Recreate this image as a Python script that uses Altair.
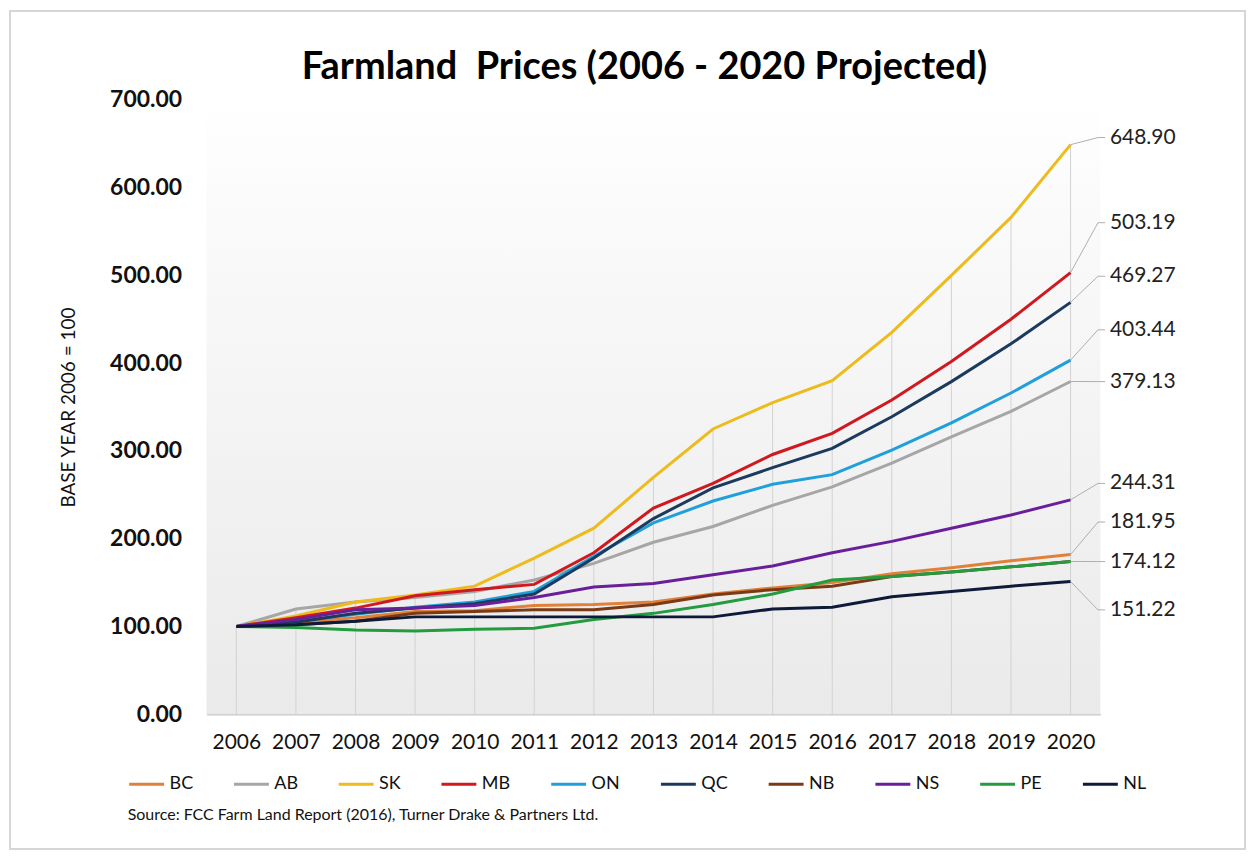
import altair as alt
import pandas as pd

years = list(range(2006, 2021))
series = ["BC", "AB", "SK", "MB", "ON", "QC", "NB", "NS", "PE", "NL"]
colors = ["#E0803A", "#A6A6A6", "#EDBB1C", "#D0181E", "#1FA0DA",
          "#1B3A5E", "#7B3A16", "#6A1F9A", "#239B3E", "#0E1A3A"]

BC = [100, 105, 110, 117, 118, 124, 125, 128, 137, 144, 150, 160, 167, 175, 181.95]
AB = [100, 120, 128, 133, 140, 153, 172, 196, 214, 238, 259, 286, 316, 345, 379.13]
SK = [100, 112, 128, 136, 146, 178, 212, 270, 325, 355, 380, 435, 500, 566, 648.90]
MB = [100, 110, 121, 135, 142, 148, 184, 235, 263, 296, 320, 358, 402, 450, 503.19]
ON = [100, 106, 114, 122, 128, 140, 180, 218, 243, 262, 273, 301, 332, 366, 403.44]
QC = [100, 105, 115, 121, 126, 137, 178, 223, 258, 281, 303, 339, 379, 422, 469.27]
NB = [100, 102, 106, 115, 117, 119, 119, 125, 136, 142, 146, 157, 162, 168, 174.12]
NS = [100, 108, 119, 121, 124, 133, 145, 149, 159, 169, 184, 197, 212, 227, 244.31]
PE = [100, 99, 96, 95, 97, 98, 108, 115, 125, 137, 153, 157, 162, 168, 174.12]
NL = [100, 102, 106, 111, 111, 111, 111, 111, 111, 120, 122, 134, 140, 146, 151.22]
values = [BC, AB, SK, MB, ON, QC, NB, NS, PE, NL]

# end-of-line data labels (value shown, and where the label sits on the value scale)
end_labels = [648.90, 503.19, 469.27, 403.44, 379.13, 244.31, 181.95, 174.12, 151.22]
label_pos = [657, 560, 499, 438, 379, 263, 219, 174, 119]

title_text = "Farmland\u00a0 Prices (2006 - 2020 Projected)"
y_title = "BASE YEAR 2006 = 100"
source_text = "Source: FCC Farm Land Report (2016), Turner Drake & Partners Ltd."

FONT = "Lato"

rows = []
for s, vals in zip(series, values):
    for yr, v in zip(years, vals):
        rows.append({"series": s, "year": yr, "value": v, "ord": series.index(s)})
df = pd.DataFrame(rows)

lab_df = pd.DataFrame({"value": end_labels, "lpos": label_pos,
                       "label": [f"{v:.2f}" for v in end_labels]})

xscale = alt.Scale(domain=[2005.5, 2020.5], nice=False, zero=False)
yscale = alt.Scale(domain=[0, 700], nice=False)

W, H = 896, 616
PAD = {"left": 199, "top": 91, "right": 150, "bottom": 140}

one = pd.DataFrame({"a": [0]})

frame = alt.Chart(one).mark_rect(
    filled=False, stroke="#D6D6D6", strokeWidth=2
).encode(
    x=alt.value(-197), x2=alt.value(W + 145),
    y=alt.value(-89), y2=alt.value(H + 135),
)

bg = alt.Chart(one).mark_rect(
    color=alt.LinearGradient(
        gradient="linear",
        stops=[alt.GradientStop(color="#FFFFFF", offset=0),
               alt.GradientStop(color="#FBFBFB", offset=0.15),
               alt.GradientStop(color="#EAEAEA", offset=1)],
        x1=0, x2=0, y1=0, y2=1)
).encode(
    x=alt.datum(2005.5, scale=xscale),
    x2=alt.datum(2020.5),
    y=alt.datum(700, scale=yscale),
    y2=alt.datum(0),
)

drops = alt.Chart(df).transform_aggregate(
    vmax="max(value)", groupby=["year"]
).transform_calculate(zero="0").mark_rule(color="#D2D2D2", strokeWidth=1).encode(
    x=alt.X("year:Q", scale=xscale, title=None),
    y=alt.Y("zero:Q", scale=yscale, title=y_title),
    y2="vmax:Q",
)

lines = alt.Chart(df).mark_line(strokeWidth=3).encode(
    x=alt.X("year:Q", scale=xscale, title=None,
            axis=alt.Axis(values=years, format="d", grid=False, ticks=False,
                          domainColor="#C8C8C8", domainWidth=1.5,
                          labelFontSize=21, labelFont=FONT, labelColor="#111111",
                          labelPadding=17)),
    y=alt.Y("value:Q", scale=yscale, title=y_title,
            axis=alt.Axis(values=list(range(0, 701, 100)), format=".2f", grid=False,
                          ticks=False, domain=False, labelFontSize=23,
                          labelFont=FONT, labelFontWeight="bold", labelColor="#111111",
                          labelPadding=25, titleFont=FONT, titleFontSize=19,
                          titleFontWeight="normal", titleColor="#111111",
                          titlePadding=31)),
    color=alt.Color("series:N", scale=alt.Scale(domain=series, range=colors),
                    legend=alt.Legend(orient="none", legendX=-79, legendY=667,
                                      direction="horizontal", columns=10, title=None,
                                      symbolType="stroke", symbolSize=1225,
                                      symbolStrokeWidth=3, labelFontSize=18,
                                      labelFont=FONT, labelColor="#111111",
                                      labelOffset=4, columnPadding=34)),
    order=alt.Order("ord:Q"),
)

leader1 = alt.Chart(lab_df).mark_rule(color="#AFAFAF", strokeWidth=1).encode(
    x=alt.datum(2020, scale=xscale), x2=alt.datum(2020.46),
    y=alt.Y("value:Q", scale=yscale, title=y_title), y2="lpos:Q",
)
leader2 = alt.Chart(lab_df).mark_rule(color="#AFAFAF", strokeWidth=1).encode(
    x=alt.datum(2020.46, scale=xscale), x2=alt.datum(2020.58),
    y=alt.Y("lpos:Q", scale=yscale, title=y_title),
)
labels = alt.Chart(lab_df).mark_text(
    align="left", baseline="middle", fontSize=21, font=FONT, color="#222222"
).encode(
    x=alt.datum(2020.66, scale=xscale),
    y=alt.Y("lpos:Q", scale=yscale, title=y_title),
    text="label:N",
)

title = alt.Chart(pd.DataFrame({"t": [title_text]})).mark_text(
    align="center", baseline="alphabetic", fontSize=38, font=FONT,
    fontWeight="bold", color="#000000"
).encode(x=alt.value(W / 2 - 9), y=alt.value(-21), text="t:N")

source = alt.Chart(pd.DataFrame({"t": [source_text]})).mark_text(
    align="left", baseline="middle", fontSize=16, font=FONT, color="#111111"
).encode(x=alt.value(-79), y=alt.value(717), text="t:N")

chart = alt.layer(frame, bg, drops, lines, leader1, leader2, labels, title, source).properties(
    width=W, height=H,
    autosize=alt.AutoSizeParams(type="none"),
    padding=PAD,
    background="#FFFFFF",
).configure_view(stroke=None)

chart.save("out.html", embed_options={"renderer": "svg", "actions": False})
